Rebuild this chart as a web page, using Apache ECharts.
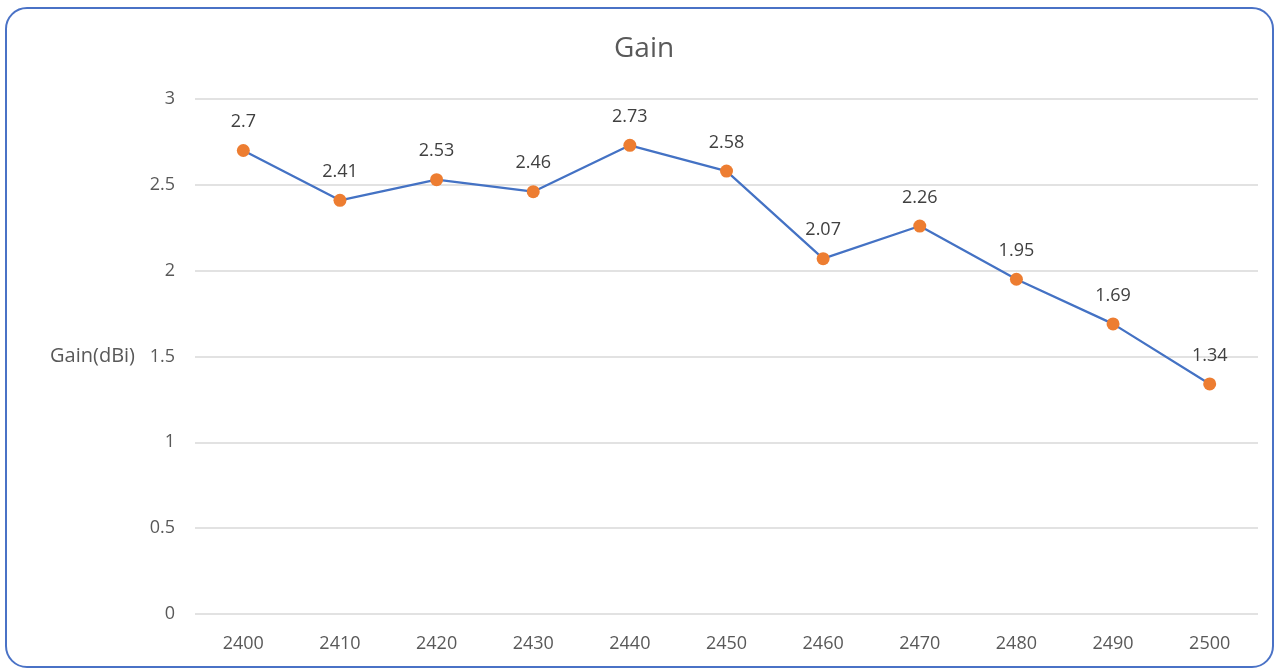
<!DOCTYPE html>
<html>
<head>
<meta charset="utf-8">
<script src="https://cdn.jsdelivr.net/npm/echarts@6/dist/echarts.min.js"></script>
<style>
html,body{margin:0;padding:0;background:#fff;}
#chart{position:absolute;left:0;top:0;width:1275px;height:668px;}
#frame{position:absolute;left:5px;top:7px;width:1265px;height:657px;border:2px solid #4a72c6;border-radius:22px;pointer-events:none;}
</style>
</head>
<body>
<div id="chart"></div>
<div id="frame"></div>
<script>
const categories = ['2400','2410','2420','2430','2440','2450','2460','2470','2480','2490','2500'];
const gainValues = [2.7, 2.41, 2.53, 2.46, 2.73, 2.58, 2.07, 2.26, 1.95, 1.69, 1.34];
const titleText = 'Gain';
const yAxisName = 'Gain(dBi)';

const chart = echarts.init(document.getElementById('chart'));
const font = '"Open Sans", "Noto Sans", sans-serif';
chart.setOption({
  backgroundColor: '#ffffff',
  title: {
    text: titleText, left: 614, top: 35, padding: 0,
    textStyle: {fontFamily: font, fontSize: 28, fontWeight: 'normal', color: '#595959'}
  },
  grid: {left: 195, right: 17, top: 99, bottom: 54},
  xAxis: {
    type: 'category', data: categories, boundaryGap: true,
    axisLine: {show: false}, axisTick: {show: false},
    axisLabel: {fontFamily: font, fontSize: 18, color: '#595959', margin: 21}
  },
  yAxis: {
    type: 'value', min: 0, max: 3, interval: 0.5,
    name: yAxisName, nameLocation: 'middle', nameRotate: 0, nameGap: 60,
    nameTextStyle: {fontFamily: font, fontSize: 20, color: '#595959', align: 'right'},
    axisLine: {show: false}, axisTick: {show: false},
    axisLabel: {fontFamily: font, fontSize: 18, color: '#595959', margin: 20},
    splitLine: {lineStyle: {color: '#d9d9d9', width: 1.5}}
  },
  series: [{
    type: 'line', data: gainValues,
    symbol: 'circle', symbolSize: 13,
    lineStyle: {color: '#4472c4', width: 2.25},
    itemStyle: {color: '#ed7d31'},
    label: {show: true, position: 'top', distance: 13, fontFamily: font, fontSize: 18, color: '#404040'},
    animation: false
  }],
  animation: false
});
</script>
</body>
</html>
